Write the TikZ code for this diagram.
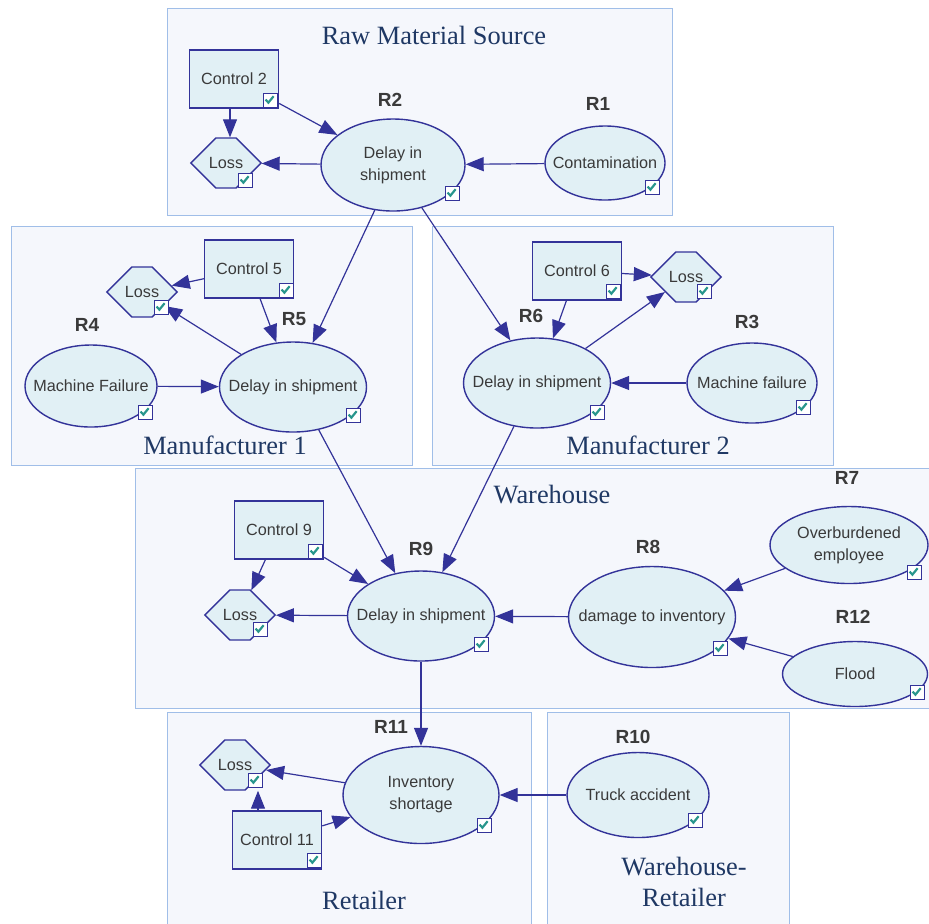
\documentclass[tikz,border=0pt]{standalone}
\usepackage{fontspec}
\setmainfont{Liberation Serif}
\setsansfont{Liberation Sans}
\usetikzlibrary{arrows.meta}
\usetikzlibrary{shapes.geometric}
\usetikzlibrary{shapes.symbols}
\definecolor{linkblue}{RGB}{51,51,153}
\definecolor{nodefill}{RGB}{225,240,245}
\definecolor{nodetext}{RGB}{58,58,58}
\definecolor{stagefill}{RGB}{245,247,252}
\definecolor{stageline}{RGB}{160,190,232}
\definecolor{stagetext}{RGB}{31,56,100}
\definecolor{tickteal}{RGB}{40,150,140}
\tikzset {
  % boxes of the supply chain stages
  stage/.style = {draw=stageline, fill=stagefill, line width=0.5pt},
  stagename/.style = {text=stagetext, font=\rmfamily\fontsize{13.2}{15.5}\selectfont, align=center},
  % risk events, controls and losses
  risk/.style = {draw=linkblue, fill=nodefill, ellipse, line width=0.7pt, inner xsep=-20pt, inner ysep=-10pt,
    text=nodetext, font=\sffamily\fontsize{8.1}{11}\selectfont, align=center},
  control/.style = {draw=linkblue, fill=nodefill, rectangle, line width=0.7pt, minimum width=44.5pt,
    minimum height=29pt, inner sep=0pt, text=nodetext, font=\sffamily\fontsize{8.1}{11}\selectfont},
  loss/.style = {draw=linkblue, fill=nodefill, signal, signal to=east and west, signal pointer angle=90,
    minimum height=25pt, inner xsep=-3.5pt, inner ysep=1pt, line width=0.7pt,
    text=nodetext, font=\sffamily\fontsize{8.1}{11}\selectfont},
  rname/.style = {text=nodetext, font=\sffamily\bfseries\fontsize{9.5}{11}\selectfont},
  % small ticked box in a corner
  tick/.style = {draw=linkblue, fill=white, line width=0.5pt, minimum size=7pt, inner sep=0pt,
    path picture={\draw[tickteal, line width=1.1pt] ([xshift=-2.2pt,yshift=0.2pt]path picture bounding box.center)
      -- ++(1.4pt,-1.5pt) -- ++(2.6pt,3.2pt);}},
  link/.style = {draw=linkblue, line width=0.6pt, -{Triangle[length=9pt,width=7pt]}},
}
\begin{document}
\begin{tikzpicture}[x=0.5pt, y=-0.5pt]
  \fill[white] (0,0) rectangle (929,923);
  \useasboundingbox (0,0) rectangle (929,923);

  % stages
  \draw[stage] (167,8) rectangle (672,215);
  \draw[stage] (11,226) rectangle (412,465);
  \draw[stage] (432,226) rectangle (833,465);
  \draw[stage] (135,468) rectangle (940,708);
  \draw[stage] (167,712) rectangle (531,930);
  \draw[stage] (547,712) rectangle (789,930);

  \node[stagename] (raw) at (434,35) {Raw Material Source};
  \node[stagename] (man1) at (225,445) {Manufacturer 1};
  \node[stagename] (man2) at (648,445) {Manufacturer 2};
  \node[stagename] (ware) at (552,495) {Warehouse};
  \node[stagename] (ret) at (364,900) {Retailer};
  \node[stagename] (wret) at (684,882) {Warehouse-\\Retailer};

  % raw material source
  \node[control] (c2) at (234,79) {Control 2};
  \node[loss] (l2) at (226,163) {Loss};
  \node[risk, minimum width=72pt, minimum height=46pt] (r2) at (393,165) {Delay in\\shipment};
  \node[risk, minimum width=60pt, minimum height=37pt] (r1) at (605,163) {Contamination};
  \node[rname] (n2) at (390,100) {R2};
  \node[rname] (n1) at (598,104) {R1};

  % manufacturer 1
  \node[control] (c5) at (249,269) {Control 5};
  \node[loss] (l5) at (142,292) {Loss};
  \node[risk, minimum width=66pt, minimum height=41pt] (r4) at (91,386) {Machine Failure};
  \node[risk, minimum width=73.5pt, minimum height=45pt] (r5) at (293,387) {Delay in shipment};
  \node[rname] (n4) at (87,325) {R4};
  \node[rname] (n5) at (294,319) {R5};

  % manufacturer 2
  \node[control] (c6) at (577,271) {Control 6};
  \node[loss] (l6) at (686,277) {Loss};
  \node[risk, minimum width=73.5pt, minimum height=45pt] (r6) at (537,383) {Delay in shipment};
  \node[risk, minimum width=65pt, minimum height=40pt] (r3) at (752,383) {Machine failure};
  \node[rname] (n6) at (531,316) {R6};
  \node[rname] (n3) at (747,322) {R3};

  % warehouse
  \node[control] (c9) at (279,530) {Control 9};
  \node[loss] (l9) at (240,615) {Loss};
  \node[risk, minimum width=73.5pt, minimum height=45pt] (r9) at (421,616) {Delay in shipment};
  \node[risk, minimum width=83.5pt, minimum height=50.5pt] (r8) at (652,617) {damage to inventory};
  \node[risk, minimum width=79pt, minimum height=38.5pt] (r7) at (849,545) {Overburdened\\employee};
  \node[risk, minimum width=72.5pt, minimum height=32.5pt] (r12) at (855,674) {Flood};
  \node[rname] (n9) at (421,549) {R9};
  \node[rname] (n8) at (648,547) {R8};
  \node[rname] (n7) at (847,478) {R7};
  \node[rname] (n12) at (853,617) {R12};

  % retailer and transport
  \node[control] (c11) at (277,840) {Control 11};
  \node[loss] (l11) at (235,765) {Loss};
  \node[risk, minimum width=78pt, minimum height=48.5pt] (r11) at (421,795) {Inventory\\shortage};
  \node[risk, minimum width=71pt, minimum height=42.5pt] (r10) at (638,795) {Truck accident};
  \node[rname] (n11) at (391,727) {R11};
  \node[rname] (n10) at (633,737) {R10};

  % links
  \draw[link] ([xshift=2pt]l2.north |- c2.south) -- ([xshift=2pt]l2.north);
  \draw[link] (c2) -- (r2);
  \draw[link] (r2) -- (l2);
  \draw[link] (r1) -- (r2);
  \draw[link] (r2.248) -- (r5.66);
  \draw[link] (r2.304) -- (r6.122);

  \draw[link] (c5) -- (l5);
  \draw[link] (c5) -- (r5);
  \draw[link] (r5) -- (l5);
  \draw[link] (r4) -- (r5);

  \draw[link] (c6) -- (l6);
  \draw[link] (c6) -- (r6);
  \draw[link] (r6) -- (l6);
  \draw[link] (r3) -- (r6);

  \draw[link] (r5.301) -- (r9.121);
  \draw[link] (r6.242) -- (r9.64);

  \draw[link] (c9) -- (l9);
  \draw[link] (c9) -- (r9);
  \draw[link] (r9) -- (l9);
  \draw[link] (r8) -- (r9);
  \draw[link] (r7) -- (r8);
  \draw[link] (r12) -- (r8);

  \draw[link] (r9.south) -- (r11.north);
  \draw[link] (r11) -- (l11);
  \draw[link] ([xshift=-9.5pt]c11.north) -- ([xshift=-9.5pt]c11.north |- l11.south);
  \draw[link] (c11) -- (r11);
  \draw[link] (r10) -- (r11);

  % ticks
  \node[tick] (k2) at (270,100) {};
  \node[tick] (kl2) at (245,180) {};
  \node[tick] (kr2) at (452,193) {};
  \node[tick] (kr1) at (652,187) {};
  \node[tick] (k5) at (286,290) {};
  \node[tick] (kl5) at (161,307) {};
  \node[tick] (kr4) at (145,412) {};
  \node[tick] (kr5) at (353,415) {};
  \node[tick] (k6) at (613,291) {};
  \node[tick] (kl6) at (704,291) {};
  \node[tick] (kr6) at (597,412) {};
  \node[tick] (kr3) at (803,407) {};
  \node[tick] (k9) at (315,551) {};
  \node[tick] (kl9) at (260,629) {};
  \node[tick] (kr9) at (481,644) {};
  \node[tick] (kr8) at (720,648) {};
  \node[tick] (kr7) at (914,572) {};
  \node[tick] (kr12) at (917,692) {};
  \node[tick] (k11) at (314,860) {};
  \node[tick] (kl11) at (255,780) {};
  \node[tick] (kr11) at (484,825) {};
  \node[tick] (kr10) at (695,820) {};
\end{tikzpicture}
\end{document}
